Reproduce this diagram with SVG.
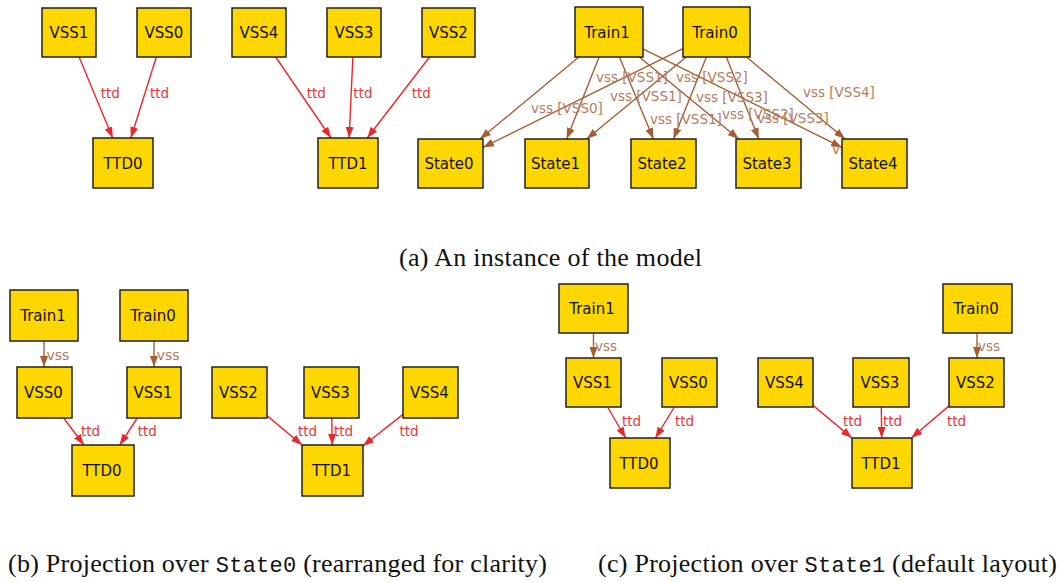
<svg xmlns="http://www.w3.org/2000/svg" width="1061" height="582" viewBox="0 0 1061 582">
<style>
.node rect{fill:#FFD700;stroke:#222;stroke-width:1.5}
.node text{font-family:"DejaVu Sans",sans-serif;font-size:15px;fill:#111;text-anchor:middle}
.ttd{stroke:#e8282e;stroke-width:1.4;fill:none;marker-end:url(#ar)}
.vss{stroke:#a65d33;stroke-width:1.4;fill:none;marker-end:url(#ab)}
.lt{font-family:"DejaVu Sans",sans-serif;font-size:13.5px;fill:#e23a3a}
.lv{font-family:"DejaVu Sans",sans-serif;font-size:13.5px;fill:#b47b5e}
.cap{font-family:"Liberation Serif","Times New Roman",serif;font-size:26px;fill:#111}
.mono{font-family:"Liberation Mono","Courier New",monospace;font-size:22px}
</style>
<defs>
<marker id="ar" markerUnits="userSpaceOnUse" markerWidth="11" markerHeight="8" refX="11" refY="4" orient="auto"><path d="M0,0 L11,4 L0,8 z" fill="#e8282e"/></marker>
<marker id="ab" markerUnits="userSpaceOnUse" markerWidth="11" markerHeight="8" refX="11" refY="4" orient="auto"><path d="M0,0 L11,4 L0,8 z" fill="#a65d33"/></marker>
</defs>
<rect width="1061" height="582" fill="#fff"/>
<g id="connectors">
<path class="ttd" d="M79.1,57 L112.7,138"/>
<path class="ttd" d="M156.3,57 L130.9,138"/>
<path class="ttd" d="M275.7,57 L331,138"/>
<path class="ttd" d="M352.9,57 L349.1,138"/>
<path class="ttd" d="M429.6,57 L367.3,138"/>
<path class="vss" d="M578.9,57 L480,139"/>
<path class="vss" d="M599.1,57 L566.7,139"/>
<path class="vss" d="M619.4,57 L653.4,139"/>
<path class="vss" d="M639.3,57 L738.8,139"/>
<path class="vss" d="M643,48.8 L842,147.4"/>
<path class="vss" d="M683,48.6 L483,147.4"/>
<path class="vss" d="M686.2,57 L586.7,139"/>
<path class="vss" d="M706.4,57 L673.4,139"/>
<path class="vss" d="M726.4,57 L758.8,139"/>
<path class="vss" d="M746.5,57 L845.1,139"/>
<text class="lt" x="100.7" y="98">ttd</text>
<text class="lt" x="150" y="98">ttd</text>
<text class="lt" x="306.7" y="98">ttd</text>
<text class="lt" x="353.3" y="98">ttd</text>
<text class="lt" x="411.7" y="98">ttd</text>
<text class="lv" x="596" y="82">vss [VSS1]</text>
<text class="lv" x="676" y="82">vss [VSS2]</text>
<text class="lv" x="531" y="113">vss [VSS0]</text>
<text class="lv" x="610" y="101">vss [VSS1]</text>
<text class="lv" x="696" y="102">vss [VSS3]</text>
<text class="lv" x="803" y="97">vss [VSS4]</text>
<text class="lv" x="650" y="124">vss [VSS1]</text>
<text class="lv" x="722" y="119">vss [VSS2]</text>
<text class="lv" x="757" y="123">vss [VSS3]</text>
<text class="lv" x="832" y="154">vss</text>
<path class="vss" d="M44,341 L44,367"/>
<path class="vss" d="M154,341 L154,367"/>
<path class="ttd" d="M63.6,418 L83.9,445"/>
<path class="ttd" d="M137.3,418 L119.7,445"/>
<path class="ttd" d="M267,415.6 L302.1,445"/>
<path class="ttd" d="M331.8,418 L332.2,445"/>
<path class="ttd" d="M403,414.4 L363,446"/>
<text class="lv" x="46.5" y="360" style="font-size:14px">vss</text>
<text class="lv" x="156.7" y="360" style="font-size:14px">vss</text>
<text class="lt" x="81" y="436">ttd</text>
<text class="lt" x="137.7" y="436">ttd</text>
<text class="lt" x="298" y="436">ttd</text>
<text class="lt" x="334" y="436">ttd</text>
<text class="lt" x="399.5" y="436">ttd</text>
<path class="vss" d="M593.5,333 L593.5,358"/>
<path class="vss" d="M977,333 L977,358"/>
<path class="ttd" d="M607.6,407 L625.6,438"/>
<path class="ttd" d="M674.4,407 L655.4,438"/>
<path class="ttd" d="M813,405.4 L852,438"/>
<path class="ttd" d="M881.3,407 L881.7,438"/>
<path class="ttd" d="M949,405.9 L911.3,438"/>
<text class="lv" x="595" y="351">vss</text>
<text class="lv" x="978" y="351">vss</text>
<text class="lt" x="622" y="426">ttd</text>
<text class="lt" x="675" y="426">ttd</text>
<text class="lt" x="843" y="426">ttd</text>
<text class="lt" x="883" y="426">ttd</text>
<text class="lt" x="947" y="426">ttd</text>
</g>
<g id="a-VSS1" class="node"><rect x="42" y="8" width="54" height="49"/><text x="69" y="38">VSS1</text></g>
<g id="a-VSS0" class="node"><rect x="137" y="8" width="54" height="49"/><text x="164" y="38">VSS0</text></g>
<g id="a-VSS4" class="node"><rect x="232" y="8" width="54" height="49"/><text x="259" y="38">VSS4</text></g>
<g id="a-VSS3" class="node"><rect x="327" y="8" width="54" height="49"/><text x="354" y="38">VSS3</text></g>
<g id="a-VSS2" class="node"><rect x="422" y="8" width="53" height="49"/><text x="448.5" y="38">VSS2</text></g>
<g id="a-TTD0" class="node"><rect x="93" y="138" width="60" height="50"/><text x="123" y="168.5">TTD0</text></g>
<g id="a-TTD1" class="node"><rect x="318" y="138" width="60" height="50"/><text x="348" y="168.5">TTD1</text></g>
<g id="a-Train1" class="node"><rect x="575" y="7" width="68" height="50"/><text x="607" y="37.5">Train1</text></g>
<g id="a-Train0" class="node"><rect x="683" y="7" width="67" height="50"/><text x="715" y="37.5">Train0</text></g>
<g id="a-State0" class="node"><rect x="418" y="139" width="65" height="49"/><text x="449" y="169">State0</text></g>
<g id="a-State1" class="node"><rect x="525" y="139" width="64" height="49"/><text x="555.5" y="169">State1</text></g>
<g id="a-State2" class="node"><rect x="631" y="139" width="65" height="49"/><text x="662" y="169">State2</text></g>
<g id="a-State3" class="node"><rect x="736" y="139" width="65" height="49"/><text x="767" y="169">State3</text></g>
<g id="a-State4" class="node"><rect x="842" y="139" width="65" height="49"/><text x="873" y="169">State4</text></g>
<g id="b-Train1" class="node"><rect x="10" y="290" width="68" height="51"/><text x="43" y="321">Train1</text></g>
<g id="b-Train0" class="node"><rect x="120" y="290" width="68" height="51"/><text x="153" y="321">Train0</text></g>
<g id="b-VSS0" class="node"><rect x="17" y="367" width="55" height="51"/><text x="43.5" y="398">VSS0</text></g>
<g id="b-VSS1" class="node"><rect x="127" y="367" width="54" height="51"/><text x="153" y="398">VSS1</text></g>
<g id="b-VSS2" class="node"><rect x="212" y="367" width="55" height="51"/><text x="238.5" y="398">VSS2</text></g>
<g id="b-VSS3" class="node"><rect x="304" y="367" width="55" height="51"/><text x="330.5" y="398">VSS3</text></g>
<g id="b-VSS4" class="node"><rect x="403" y="367" width="55" height="51"/><text x="429.5" y="398">VSS4</text></g>
<g id="b-TTD0" class="node"><rect x="72" y="445" width="62" height="51"/><text x="102" y="476">TTD0</text></g>
<g id="b-TTD1" class="node"><rect x="302" y="445" width="61" height="51"/><text x="331.5" y="476">TTD1</text></g>
<g id="c-Train1" class="node"><rect x="559" y="284" width="69" height="49"/><text x="592" y="314">Train1</text></g>
<g id="c-Train0" class="node"><rect x="943" y="284" width="69" height="49"/><text x="976" y="314">Train0</text></g>
<g id="c-VSS1" class="node"><rect x="566" y="358" width="55" height="49"/><text x="592.5" y="388">VSS1</text></g>
<g id="c-VSS0" class="node"><rect x="662" y="358" width="55" height="49"/><text x="688.5" y="388">VSS0</text></g>
<g id="c-VSS4" class="node"><rect x="758" y="358" width="55" height="49"/><text x="784.5" y="388">VSS4</text></g>
<g id="c-VSS3" class="node"><rect x="853" y="358" width="56" height="49"/><text x="880" y="388">VSS3</text></g>
<g id="c-VSS2" class="node"><rect x="949" y="358" width="55" height="49"/><text x="975.5" y="388">VSS2</text></g>
<g id="c-TTD0" class="node"><rect x="610" y="438" width="60" height="50"/><text x="639" y="468.5">TTD0</text></g>
<g id="c-TTD1" class="node"><rect x="852" y="438" width="60" height="50"/><text x="881" y="468.5">TTD1</text></g>
<text class="cap" x="399" y="266" textLength="303" lengthAdjust="spacing">(a) An instance of the model</text>
<text class="cap" x="8" y="572" textLength="539" lengthAdjust="spacing">(b) Projection over <tspan class="mono">State0</tspan> (rearranged for clarity)</text>
<text class="cap" x="598" y="572" textLength="459" lengthAdjust="spacing">(c) Projection over <tspan class="mono">State1</tspan> (default layout)</text>
</svg>
